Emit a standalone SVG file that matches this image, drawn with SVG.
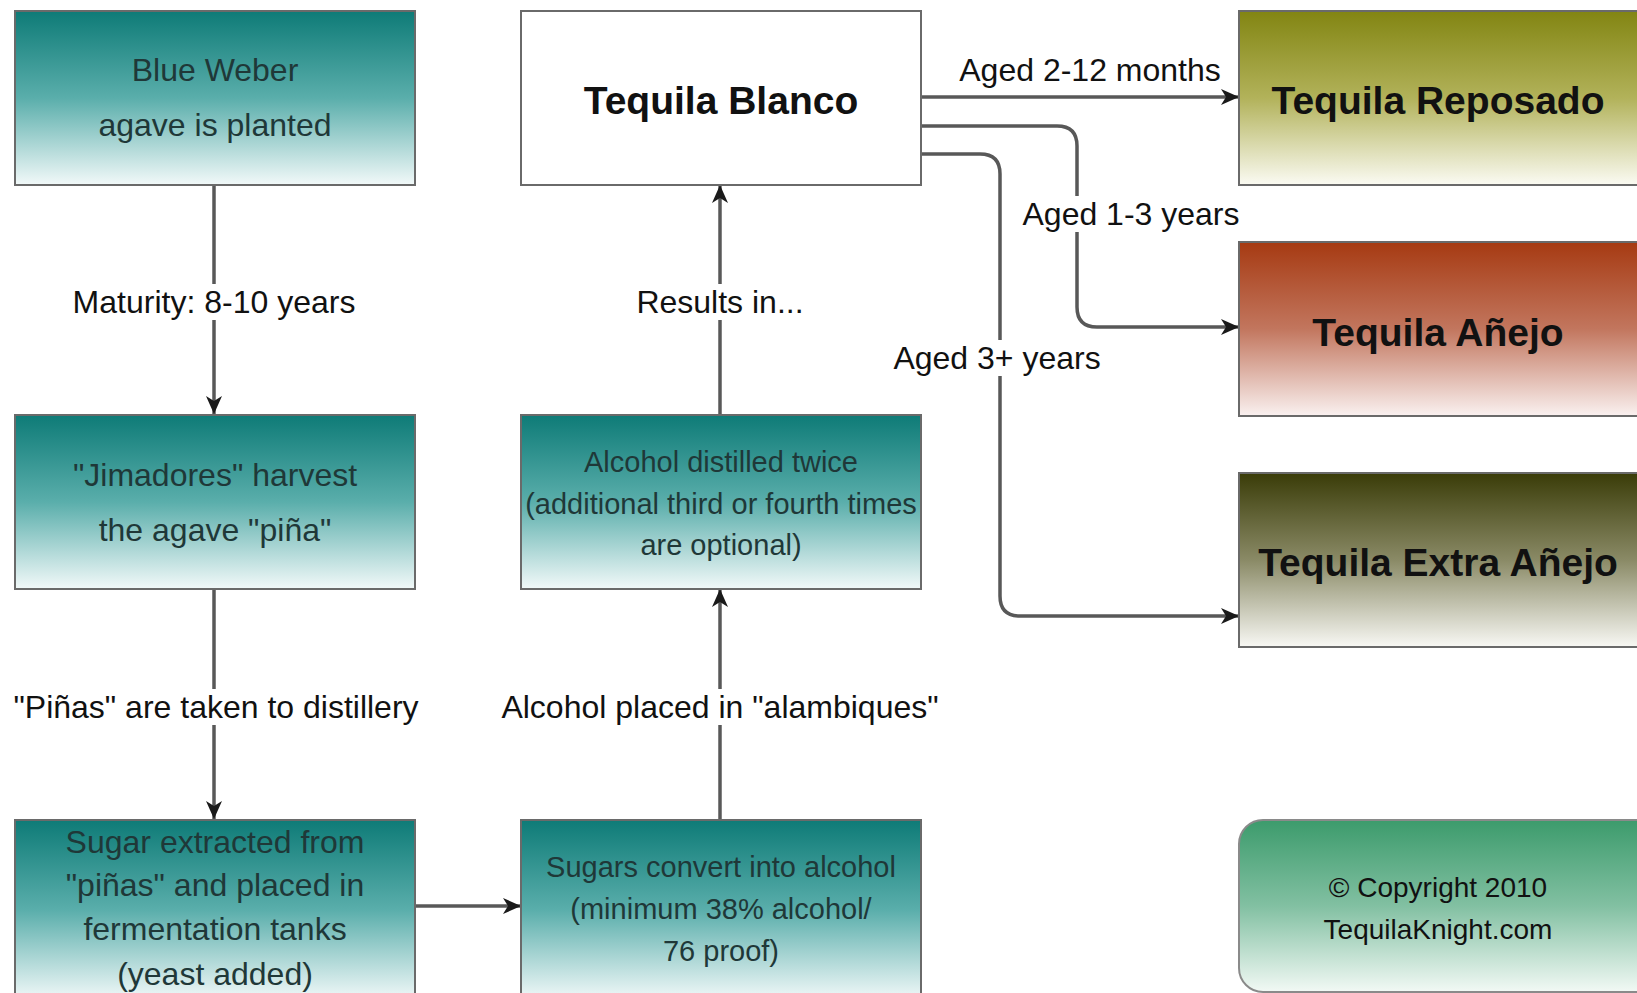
<svg xmlns="http://www.w3.org/2000/svg" width="1637" height="993" viewBox="0 0 1637 993">
<defs>
<linearGradient id="gTeal" x1="0" y1="0" x2="0" y2="1">
<stop offset="0" stop-color="#0e7b77"/><stop offset="0.5" stop-color="#5aaeab"/><stop offset="1" stop-color="#f2f9f9"/>
</linearGradient>
<linearGradient id="gOlive" x1="0" y1="0" x2="0" y2="1">
<stop offset="0" stop-color="#828512"/><stop offset="0.5" stop-color="#b2b25a"/><stop offset="1" stop-color="#fbfbf3"/>
</linearGradient>
<linearGradient id="gRust" x1="0" y1="0" x2="0" y2="1">
<stop offset="0" stop-color="#a63a12"/><stop offset="0.5" stop-color="#c2765e"/><stop offset="1" stop-color="#faf1f0"/>
</linearGradient>
<linearGradient id="gDark" x1="0" y1="0" x2="0" y2="1">
<stop offset="0" stop-color="#3a3c08"/><stop offset="0.5" stop-color="#8a8a66"/><stop offset="1" stop-color="#f8f8f4"/>
</linearGradient>
<linearGradient id="gGreen" x1="0" y1="0" x2="0" y2="1">
<stop offset="0" stop-color="#3c9b6c"/><stop offset="0.5" stop-color="#82c0a2"/><stop offset="1" stop-color="#f2f9f5"/>
</linearGradient>
<marker id="arr" markerUnits="userSpaceOnUse" markerWidth="20" markerHeight="18" refX="18" refY="9" orient="auto">
<path d="M0,1 L18,9 L0,17 L5,9 z" fill="#1a1a1a"/>
</marker>
<clipPath id="clipLeft"><rect x="13" y="680" width="440" height="60"/></clipPath>
</defs>
<style>
.box{stroke:#6a6a6a;stroke-width:2}
.t{font-family:"Liberation Sans",Arial,sans-serif;text-anchor:middle;dominant-baseline:central}
.n{fill:#1f3838;font-size:32px}
.s{fill:#1f3838;font-size:29px}
.b{fill:#111;font-size:39px;font-weight:bold}
.lbl{fill:#111;font-size:32px}
.c{fill:#111;font-size:28px}
.bg{fill:#ffffff}
.con{fill:none;stroke:#585858;stroke-width:3.5;marker-end:url(#arr)}
</style>
<rect width="1637" height="993" fill="#ffffff"/>

<g id="connectors">
<path class="con" d="M214,185 V414"/>
<path class="con" d="M214,589 V819"/>
<path class="con" d="M416,906 H521"/>
<path class="con" d="M720,819 V589"/>
<path class="con" d="M720,414 V185"/>
<path class="con" d="M921,97 H1239"/>
<path class="con" d="M921,126 H1057 Q1077,126 1077,146 V307 Q1077,327 1097,327 H1239"/>
<path class="con" d="M921,154 H980 Q1000,154 1000,174 V596 Q1000,616 1020,616 H1239"/>
</g>

<g id="labels">
<rect class="bg" x="72" y="284" width="284" height="36"/>
<text class="t lbl" x="214" y="302">Maturity: 8-10 years</text>
<rect class="bg" x="13" y="689" width="412" height="36"/>
<text class="t lbl" x="216" y="707" clip-path="url(#clipLeft)">"Piñas" are taken to distillery</text>
<rect class="bg" x="490" y="689" width="460" height="36"/>
<text class="t lbl" x="720" y="707">Alcohol placed in "alambiques"</text>
<rect class="bg" x="630" y="284" width="180" height="36"/>
<text class="t lbl" x="720" y="302">Results in...</text>
<rect class="bg" x="952" y="52" width="276" height="36"/>
<text class="t lbl" x="1090" y="70">Aged 2-12 months</text>
<rect class="bg" x="1020" y="196" width="220" height="36"/>
<text class="t lbl" x="1131" y="214">Aged 1-3 years</text>
<rect class="bg" x="892" y="340" width="212" height="36"/>
<text class="t lbl" x="997" y="358">Aged 3+ years</text>
</g>

<g id="blue-weber">
<rect class="box" x="15" y="11" width="400" height="174" fill="url(#gTeal)"/>
<text class="t n" x="215" y="70">Blue Weber</text>
<text class="t n" x="215" y="125">agave is planted</text>
</g>
<g id="jimadores">
<rect class="box" x="15" y="415" width="400" height="174" fill="url(#gTeal)"/>
<text class="t n" x="215" y="475">"Jimadores" harvest</text>
<text class="t n" x="215" y="530">the agave "piña"</text>
</g>
<g id="sugar-extracted">
<rect class="box" x="15" y="820" width="400" height="180" fill="url(#gTeal)"/>
<text class="t n" x="215" y="842">Sugar extracted from</text>
<text class="t n" x="215" y="885">"piñas" and placed in</text>
<text class="t n" x="215" y="929">fermentation tanks</text>
<text class="t n" x="215" y="974">(yeast added)</text>
</g>
<g id="tequila-blanco">
<rect class="box" x="521" y="11" width="400" height="174" fill="#ffffff"/>
<text class="t b" x="721" y="100">Tequila Blanco</text>
</g>
<g id="distilled">
<rect class="box" x="521" y="415" width="400" height="174" fill="url(#gTeal)"/>
<text class="t s" x="721" y="462">Alcohol distilled twice</text>
<text class="t s" x="721" y="504">(additional third or fourth times</text>
<text class="t s" x="721" y="545">are optional)</text>
</g>
<g id="sugars-convert">
<rect class="box" x="521" y="820" width="400" height="180" fill="url(#gTeal)"/>
<text class="t s" x="721" y="867">Sugars convert into alcohol</text>
<text class="t s" x="721" y="909">(minimum 38% alcohol/</text>
<text class="t s" x="721" y="951">76 proof)</text>
</g>
<g id="reposado">
<rect class="box" x="1239" y="11" width="410" height="174" fill="url(#gOlive)"/>
<text class="t b" x="1438" y="100">Tequila Reposado</text>
</g>
<g id="anejo">
<rect class="box" x="1239" y="242" width="410" height="174" fill="url(#gRust)"/>
<text class="t b" x="1438" y="332">Tequila Añejo</text>
</g>
<g id="extra-anejo">
<rect class="box" x="1239" y="473" width="410" height="174" fill="url(#gDark)"/>
<text class="t b" x="1438" y="562">Tequila Extra Añejo</text>
</g>
<g id="copyright">
<rect x="1239" y="820" width="420" height="172" rx="24" fill="url(#gGreen)" stroke="#8a8a8a" stroke-width="2"/>
<text class="t c" x="1438" y="887">© Copyright 2010</text>
<text class="t c" x="1438" y="929">TequilaKnight.com</text>
</g>
</svg>
